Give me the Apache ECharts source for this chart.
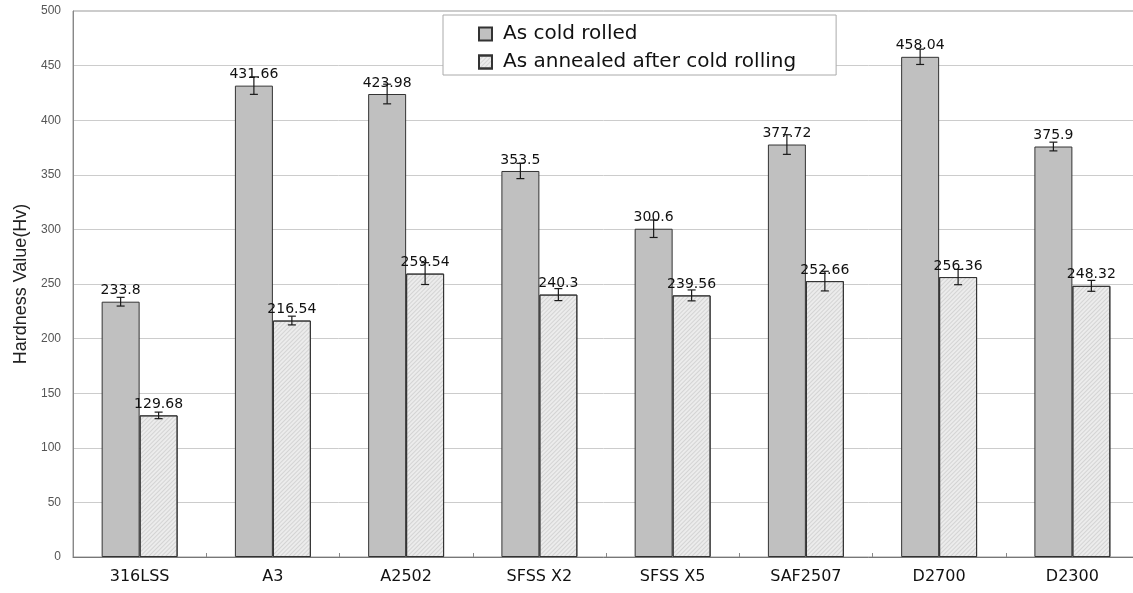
<!DOCTYPE html>
<html>
<head>
<meta charset="utf-8">
<script src="https://cdn.jsdelivr.net/npm/echarts@6/dist/echarts.min.js"></script>
<style>html,body{margin:0;padding:0;background:#fff;}#c{width:1133px;height:593px;}</style>
</head>
<body>
<div id="c"></div>
<script>
const categories = ['316LSS', 'A3', 'A2502', 'SFSS X2', 'SFSS X5', 'SAF2507', 'D2700', 'D2300'];
const coldRolled = [233.8, 431.66, 423.98, 353.5, 300.6, 377.72, 458.04, 375.9];
const coldRolledErr = [4, 8, 9, 7, 8, 9, 7, 4];
const annealed = [129.68, 216.54, 259.54, 240.3, 239.56, 252.66, 256.36, 248.32];
const annealedErr = [3, 4, 10, 5.5, 5, 9, 7, 5];
const seriesNames = ['As cold rolled', 'As annealed after cold rolling'];
const yTicks = [0, 50, 100, 150, 200, 250, 300, 350, 400, 450, 500];

const chart = echarts.init(document.getElementById('c'), null, {renderer: 'canvas'});

function errorSeries(values, errs, side) {
  return {
    type: 'custom',
    z: 10,
    silent: true,
    data: values.map((v, i) => [i, v, errs[i]]),
    renderItem: function (params, api) {
      const i = api.value(0), v = api.value(1), e = api.value(2);
      const catW = api.size([1, 0])[0];
      const off = side * catW * 0.1425;
      const top = api.coord([i, v + e]);
      const bot = api.coord([i, v - e]);
      const x = top[0] + off;
      const cap = 4;
      const style = {stroke: '#1a1a1a', lineWidth: 1.2};
      return {
        type: 'group',
        children: [
          {type: 'line', shape: {x1: x, y1: top[1], x2: x, y2: bot[1]}, style},
          {type: 'line', shape: {x1: x - cap, y1: top[1], x2: x + cap, y2: top[1]}, style},
          {type: 'line', shape: {x1: x - cap, y1: bot[1], x2: x + cap, y2: bot[1]}, style}
        ]
      };
    }
  };
}

const labelStyle = {
  show: true, position: 'top', distance: 4,
  fontFamily: 'DejaVu Sans', fontSize: 14, color: '#111',
  formatter: p => String(p.value)
};

chart.setOption({
  animation: false,
  backgroundColor: '#fff',
  grid: {left: 73, width: 1066, top: 11, bottom: 36, outerBoundsMode: 'none', containLabel: false,
         show: true, borderColor: '#999', borderWidth: 1},
  legend: {
    data: seriesNames,
    orient: 'vertical',
    left: 443, top: 15,
    padding: [9, 40, 3, 35],
    itemGap: 8,
    itemWidth: 13, itemHeight: 13,
    icon: 'rect',
    backgroundColor: '#fff',
    borderColor: '#aaa', borderWidth: 1,
    textStyle: {fontFamily: 'DejaVu Sans', fontSize: 20, color: '#111', padding: [0, 0, 0, 6]}
  },
  xAxis: {
    type: 'category',
    data: categories,
    axisLine: {lineStyle: {color: '#777'}},
    axisTick: {show: true, inside: true, length: 4, lineStyle: {color: '#888'}},
    axisLabel: {fontFamily: 'DejaVu Sans', fontSize: 16, color: '#111', margin: 12}
  },
  yAxis: {
    type: 'value',
    min: yTicks[0], max: yTicks[yTicks.length - 1], interval: 50,
    name: 'Hardness Value(Hv)',
    nameLocation: 'middle',
    nameGap: 40,
    nameTextStyle: {fontFamily: 'Liberation Sans', fontSize: 18, color: '#222'},
    axisLine: {show: true, lineStyle: {color: '#888'}},
    axisTick: {show: false},
    axisLabel: {fontFamily: 'Liberation Sans', fontSize: 12, color: '#555', margin: 12},
    splitLine: {lineStyle: {color: '#cccccc'}}
  },
  series: [
    {
      name: seriesNames[0], type: 'bar', data: coldRolled,
      barGap: 0, barCategoryGap: '43%',
      itemStyle: {color: '#c0c0c0', borderColor: '#333', borderWidth: 1},
      label: labelStyle
    },
    {
      name: seriesNames[1], type: 'bar', data: annealed,
      barGap: 0, barCategoryGap: '43%',
      itemStyle: {
        color: '#ececec', borderColor: '#333', borderWidth: 1,
        decal: {symbol: 'rect', symbolSize: 1, dashArrayX: [1, 0], dashArrayY: [1, 2], rotation: -Math.PI / 4, color: 'rgba(140,140,140,0.25)'}
      },
      label: labelStyle
    },
    errorSeries(coldRolled, coldRolledErr, -1),
    errorSeries(annealed, annealedErr, 1)
  ]
});
</script>
</body>
</html>
